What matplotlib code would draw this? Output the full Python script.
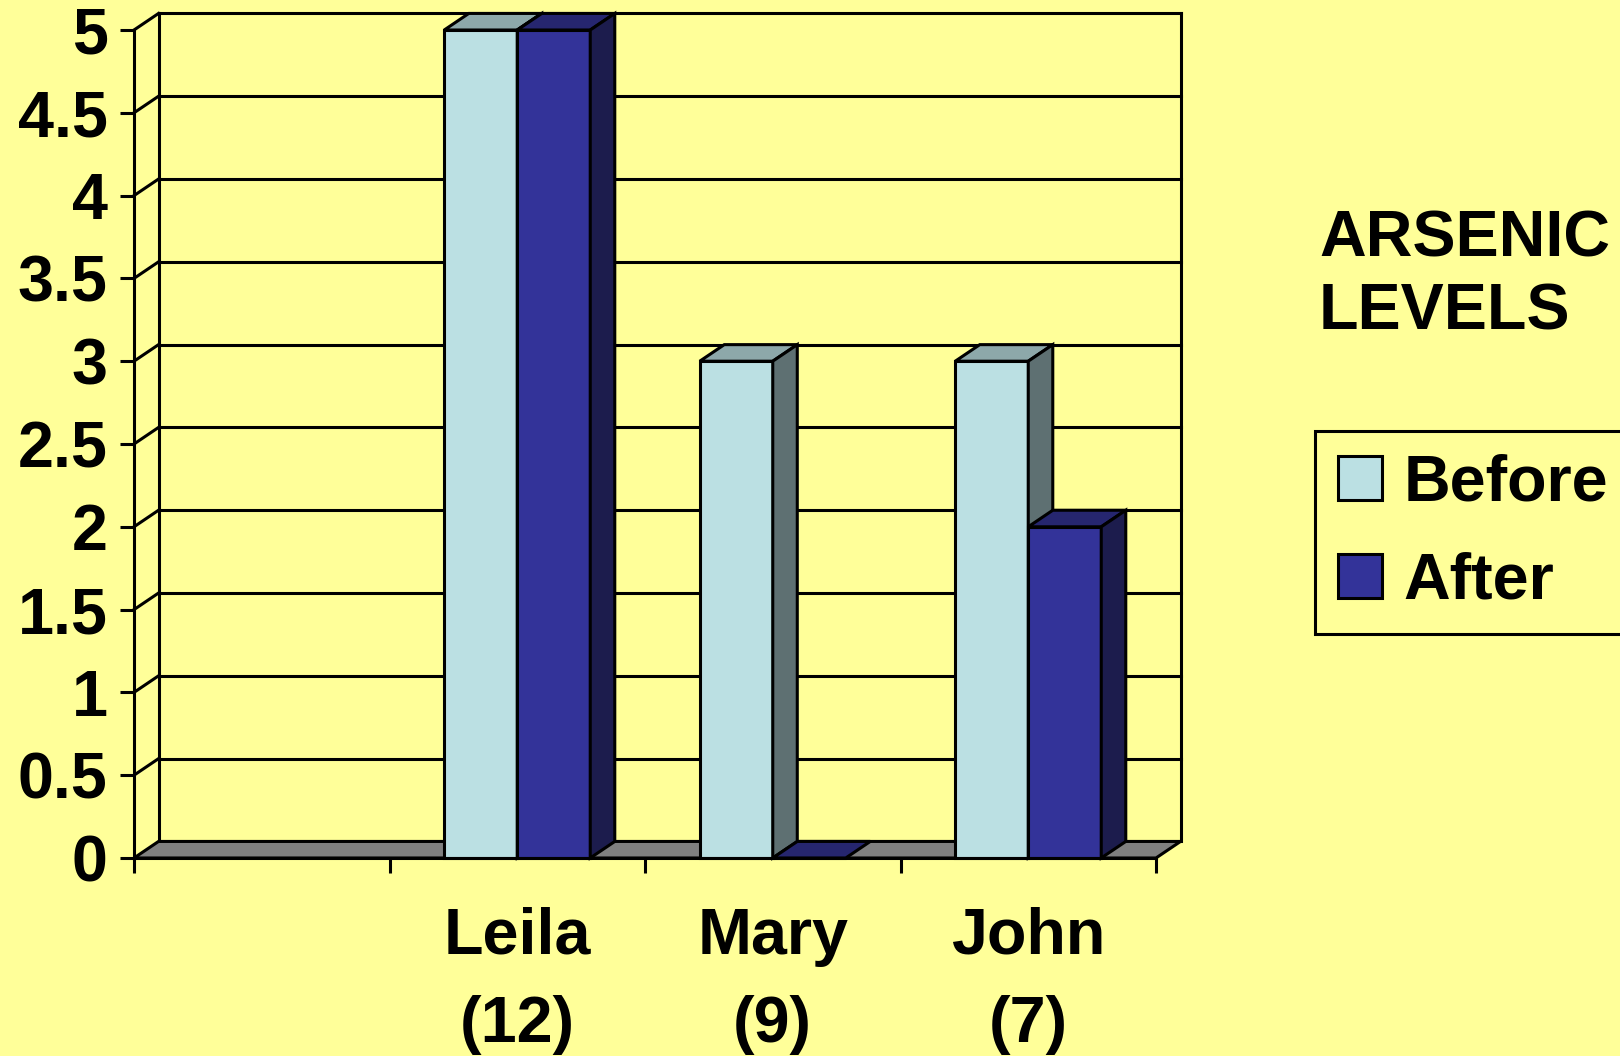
# -*-coding:Utf-8 -*
"""
Plot_Arsenic.py - Niveaux d'arsenic avant / après
=================================================
Histogramme groupé avec effet 3D (style tableur)

Sortie: out.png
"""
import numpy as np
from matplotlib import pyplot as plt
from matplotlib.patches import Polygon, Patch

##############################################################################
# DONNÉES
##############################################################################

categories = ['', 'Leila\n(12)', 'Mary\n(9)', 'John\n(7)']
before = [np.nan, 5, 3, 3]
after = [np.nan, 5, 0, 2]
series_labels = ['Before', 'After']
y_ticks = [0, 0.5, 1, 1.5, 2, 2.5, 3, 3.5, 4, 4.5, 5]
title = 'ARSENIC\nLEVELS'

##############################################################################
# CONFIGURATION
##############################################################################

BG = '#FFFF99'
FLOOR = '#808080'
# couleurs: (face avant, dessus, côté)
COLORS = {
    'Before': ('#BBE0E3', '#8DA8AA', '#5E7072'),
    'After': ('#333399', '#26266F', '#1C1C4D'),
}
DEPTH_X = 0.096   # profondeur, en unités de catégorie
DEPTH_Y = 0.10    # profondeur, en unités de valeur
GAP = 1.5         # intervalle entre groupes (150 %)
LW = 2.2
FS = 46.5

plt.rcParams['font.family'] = ['Liberation Sans', 'DejaVu Sans']
plt.rcParams['font.weight'] = 'bold'


def draw_bar(ax, x, w, v, cols):
    """Barre 'pseudo 3D': face avant, dessus, côté droit."""
    front, top, side = cols
    kw = dict(edgecolor='k', lw=LW, joinstyle='miter', clip_on=False)
    ax.add_patch(Polygon([(x, 0), (x + w, 0), (x + w, v), (x, v)],
                         facecolor=front, zorder=4, **kw))
    ax.add_patch(Polygon([(x, v), (x + w, v), (x + w + DEPTH_X, v + DEPTH_Y),
                          (x + DEPTH_X, v + DEPTH_Y)],
                         facecolor=top, zorder=4, **kw))
    if v > 0:
        ax.add_patch(Polygon([(x + w, 0), (x + w + DEPTH_X, DEPTH_Y),
                              (x + w + DEPTH_X, v + DEPTH_Y), (x + w, v)],
                             facecolor=side, zorder=4, **kw))


##############################################################################
# TRACÉ
##############################################################################

fig = plt.figure(figsize=(16.2, 10.56), dpi=100, facecolor=BG)
ax = fig.add_axes([134 / 1620, 198 / 1056, 1022 / 1620, 828 / 1056])
ax.set_facecolor('none')

n = len(categories)
x0, x1 = -0.5, n - 0.5
ymax = y_ticks[-1]
ax.set_xlim(x0, x1)
ax.set_ylim(0, ymax)
for s in ax.spines.values():
    s.set_visible(False)

line_kw = dict(color='k', lw=LW, clip_on=False, solid_capstyle='projecting')

# --- murs: grille du fond et diagonales du mur gauche ---
for v in y_ticks[1:]:
    ax.plot([x0 + DEPTH_X, x1 + DEPTH_X], [v + DEPTH_Y] * 2, zorder=1, **line_kw)
    ax.plot([x0, x0 + DEPTH_X], [v, v + DEPTH_Y], zorder=1, **line_kw)
ax.plot([x0, x0], [0, ymax], zorder=1, **line_kw)
ax.plot([x0 + DEPTH_X] * 2, [DEPTH_Y, ymax + DEPTH_Y], zorder=1, **line_kw)
ax.plot([x1 + DEPTH_X] * 2, [DEPTH_Y, ymax + DEPTH_Y], zorder=1, **line_kw)

# --- sol ---
ax.add_patch(Polygon([(x0, 0), (x1, 0), (x1 + DEPTH_X, DEPTH_Y), (x0 + DEPTH_X, DEPTH_Y)],
                     facecolor=FLOOR, edgecolor='k', lw=LW, joinstyle='miter',
                     clip_on=False, zorder=2))

# --- barres ---
w = 1.0 / (2 + GAP)
for i in range(n):
    for j, (label, vals) in enumerate(zip(series_labels, [before, after])):
        v = vals[i]
        if np.isnan(v):
            continue
        draw_bar(ax, i - w + j * w, w, v, COLORS[label])

# ligne de base avant (par-dessus les barres)
ax.plot([x0, x1], [0, 0], zorder=5, **line_kw)

# --- axes ---
tick_len = 14.5 * 0.72
ax.set_xticks(np.arange(x0, x1 + 0.01, 1.0))
ax.set_xticklabels([])
ax.set_xticks(range(n), minor=True)
ax.set_xticklabels(categories, minor=True, fontsize=FS, fontweight='bold',
                   linespacing=1.6)
ax.tick_params(axis='x', which='major', length=tick_len, width=LW, direction='out')
ax.tick_params(axis='x', which='minor', length=0, pad=35)

ax.set_yticks(y_ticks)
ax.set_yticklabels(['%g' % t for t in y_ticks], fontsize=FS, fontweight='bold')
ax.tick_params(axis='y', length=tick_len, width=LW, direction='out', pad=8.6)

# --- titre et légende à droite ---
fig.text(1319 / 1620, 1 - 330 / 1056, title, ha='left', va='baseline',
         fontsize=FS, fontweight='bold', linespacing=1.285)

handles = [Patch(facecolor=COLORS[s][0], edgecolor='k', lw=LW) for s in series_labels]
leg = fig.legend(handles, series_labels, loc='upper left',
                 bbox_to_anchor=(1315 / 1620, 1 - 431 / 1056),
                 bbox_transform=fig.transFigure, borderaxespad=0,
                 frameon=True, fancybox=False, edgecolor='k', facecolor=BG,
                 framealpha=1, prop=dict(size=FS, weight='bold'),
                 handlelength=0.68, handleheight=0.67, handletextpad=0.34,
                 labelspacing=0.59, borderpad=0.35)
leg.get_frame().set_linewidth(LW)

fig.savefig('out.png', dpi=100, facecolor=BG)
plt.close(fig)
